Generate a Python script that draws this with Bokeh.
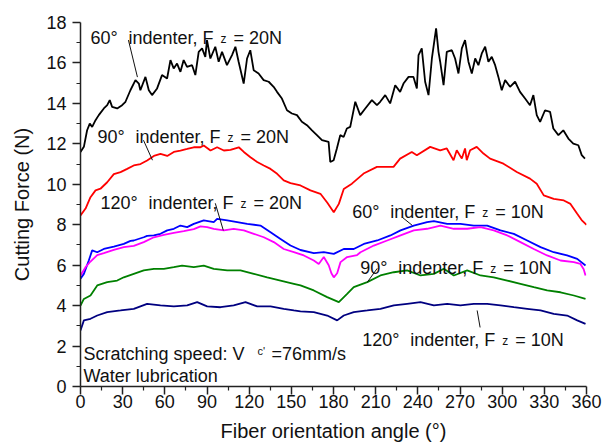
from bokeh.plotting import figure
from bokeh.models import Label, Range1d, FixedTicker
from bokeh.embed import file_html
from bokeh.resources import INLINE

FONT = "Liberation Sans"

# ---------------- data ----------------
ang_60_20 = [0, 2.4, 4.7, 6.6, 8.3, 10.7, 13.0, 16.6, 19, 20.8, 22.5, 26.1, 29.6, 32, 35.5, 39.1, 41.5,
             42.6, 46.2, 48.6, 50.9, 54.5, 58, 61.6, 64, 66.3, 68.7, 71.1, 73.4, 75.8, 79.4, 81.7, 84.1,
             86.5, 88.8, 90, 92.4, 95.9, 98.3, 100.7, 104.2, 107.8, 110.2, 112.5, 116.1, 118.5, 120.8,
             123.2, 126.7, 130.3, 133.9, 137.4, 139.8, 143.3, 146.9, 150.4, 154, 157.5, 161.1, 164.7,
             168.2, 171.8, 176.5, 177.7, 180.1, 182.4, 184.8, 187.2, 189.5, 191.9, 195.5, 199, 202.6,
             207.3, 210.9, 213.2, 216.8, 220.3, 223.9, 227.4, 229.8, 233.4, 236.9, 239.3, 240.5, 242.8,
             245.2, 247.6, 250, 253, 254.7, 255.9, 258.3, 260.6, 264.2, 266.5, 268.9, 271.3, 273.6, 276,
             278.4, 280.8, 283.1, 285.5, 287.9, 290.2, 292.6, 295, 297.3, 299.7, 302.1, 305.6, 309.2,
             312.7, 316.3, 319.8, 322.2, 324.6, 327, 330.5, 334.1, 336.4, 340, 343.5, 347.1, 350.6,
             354.2, 356.6, 358.9]
force_60_20 = [11.6, 11.85, 12.67, 13.0, 12.84, 13.17, 13.42, 13.75, 13.91, 14.16, 13.83, 13.75, 13.91,
               14.08, 14.65, 15.15, 14.98, 14.65, 15.31, 14.65, 14.41, 14.74, 15.4, 15.23, 16.14, 15.73,
               15.97, 15.56, 16.14, 15.81, 15.89, 15.4, 16.55, 16.72, 16.3, 17.13, 16.22, 16.8, 16.06,
               16.55, 15.89, 16.39, 16.8, 16.06, 14.98, 16.22, 16.63, 15.64, 15.48, 15.15, 15.07, 14.82,
               14.57, 14.24, 13.66, 13.5, 13.42, 13.09, 12.92, 12.67, 12.43, 12.18, 12.1, 11.1, 11.19,
               11.77, 12.43, 12.34, 12.76, 12.84, 14.08, 13.42, 13.75, 14.16, 13.91, 14.08, 14.41, 14.0,
               14.9, 14.57, 14.98, 15.31, 15.31, 14.74, 16.39, 16.72, 15.07, 14.41, 16.22, 17.71, 16.55,
               16.06, 14.9, 16.55, 16.63, 16.22, 15.48, 16.72, 17.13, 16.06, 15.48, 16.22, 15.89, 16.47,
               16.8, 16.06, 16.3, 15.89, 15.31, 14.65, 15.15, 14.82, 15.07, 14.57, 14.24, 13.91, 14.41,
               13.42, 13.09, 13.66, 13.58, 12.76, 12.43, 12.67, 12.26, 12.01, 11.93, 11.44, 11.27]

ang_90_20 = [0, 3.6, 7.1, 10.7, 14.2, 19, 23.7, 28.5, 33.2, 37.9, 42.7, 47.4, 52.2, 56.9, 61.7, 66.4, 71.1,
             75.9, 80.6, 85.4, 87.7, 92.5, 97.2, 102, 106.7, 112.6, 116.2, 120.9, 125.7, 130.4, 135.2,
             139.9, 144.6, 149.4, 156.5, 163.6, 170.7, 175.5, 180.2, 183.8, 187.3, 193.1, 201.4, 210.9,
             222.7, 227.4, 235.7, 239.3, 248.8, 255.9, 260.6, 265.4, 267.7, 271.3, 273.6, 274.8, 277.2,
             281.9, 286.7, 291.4, 300.9, 310.4, 319.8, 324.6, 329.6, 336.7, 343.9, 348.6, 353.4, 356.9, 360]
force_90_20 = [8.46, 8.8, 9.36, 9.7, 9.78, 10.1, 10.5, 10.6, 10.76, 10.93, 11.0, 11.18, 11.4, 11.5, 11.4,
               11.6, 11.67, 11.75, 11.83, 11.83, 11.92, 11.67, 11.83, 11.67, 11.7, 11.83, 11.6, 11.34, 11.1,
               10.93, 10.76, 10.52, 10.19, 10.06, 9.94, 9.7, 9.53, 9.1, 8.62, 9.03, 9.77, 10.03, 10.53,
               10.86, 10.86, 11.27, 11.6, 11.44, 11.85, 11.68, 11.77, 11.19, 11.68, 11.27, 11.77, 11.19,
               11.68, 11.85, 11.52, 11.27, 11.02, 10.61, 10.28, 10.03, 9.45, 9.28, 9.2, 9.03, 8.54, 8.2, 8.0]

ang_120_20 = [0, 2.4, 5.9, 8.3, 11.9, 16.6, 23.7, 30.8, 35.6, 37.9, 45, 47.4, 52.2, 56.9, 61.7, 66.4, 71.1,
              75.9, 80.6, 87.7, 94.8, 97.2, 104.4, 111.5, 118.6, 128, 135.2, 142.3, 149.4, 156.5, 166,
              173.1, 177, 180.2, 187.3, 194.4, 201.6, 211.1, 220.5, 227.7, 237.1, 246.6, 251.4, 260.9,
              270.3, 279.8, 289.3, 298.8, 308.3, 317.8, 327.3, 336.7, 346.2, 353.4, 359.3]
force_120_20 = [5.33, 5.57, 6.23, 6.73, 6.64, 6.8, 6.92, 7.05, 7.2, 7.22, 7.38, 7.45, 7.47, 7.55, 7.72, 7.8,
                7.96, 7.88, 8.04, 8.21, 8.13, 8.29, 8.21, 8.13, 8.04, 7.96, 7.63, 7.3, 6.97, 6.75, 6.6, 6.64,
                6.6, 6.56, 6.8, 6.8, 7.05, 7.22, 7.47, 7.72, 7.96, 8.13, 8.18, 8.04, 8.04, 7.96, 7.96, 7.72,
                7.55, 7.22, 6.89, 6.64, 6.48, 6.31, 5.98]

ang_60_10 = [0, 3.6, 7.1, 11.9, 16.6, 23.7, 30.8, 37.9, 45, 52.2, 59.3, 66.4, 73.5, 80.6, 85.4, 90.1, 94.8,
             102, 109, 116.2, 123.3, 130.4, 137.5, 144.6, 151.8, 158.9, 166, 169.5, 173.1, 176.6, 178.5,
             180.2, 182.6, 185, 189.7, 196.8, 199.2, 208.7, 218.2, 227.7, 237.1, 246.6, 256.1, 265.6,
             275.1, 284.6, 294, 303.6, 313, 322.5, 332, 341.5, 351, 355.7, 358, 359.3]
force_60_10 = [5.49, 5.9, 6.18, 6.5, 6.6, 6.76, 6.89, 6.95, 7.14, 7.38, 7.5, 7.6, 7.68, 7.78, 7.92, 7.88,
               7.8, 7.72, 7.8, 7.72, 7.55, 7.38, 7.14, 6.8, 6.64, 6.48, 6.23, 6.06, 6.4, 6.0, 5.6, 5.4, 5.6,
               6.15, 6.4, 6.5, 6.64, 6.97, 7.22, 7.47, 7.72, 7.8, 7.96, 7.8, 7.8, 7.88, 7.72, 7.47, 7.14,
               6.8, 6.48, 6.23, 6.15, 6.06, 5.8, 5.49]

ang_90_10 = [0, 2.4, 7.1, 11.9, 19, 26.1, 30.8, 37.9, 45, 52.2, 59.3, 66.4, 72.3, 80.6, 87.7, 94.8, 104.4,
             113.8, 123.3, 132.8, 142.3, 151.8, 156.5, 166, 175.5, 183.8, 189.7, 194.4, 204, 213.4, 222.9,
             232.4, 241.9, 251.4, 258.5, 265.6, 275.1, 284.6, 294, 303.6, 313, 322.5, 332, 341.5, 351, 359.3]
force_90_10 = [4.0, 4.33, 4.5, 5.0, 5.16, 5.24, 5.4, 5.57, 5.74, 5.82, 5.82, 5.9, 5.98, 5.9, 5.98, 5.82,
               5.74, 5.74, 5.57, 5.4, 5.24, 5.08, 5.0, 4.75, 4.42, 4.17, 4.58, 4.91, 5.16, 5.49, 5.65, 5.74,
               5.49, 5.57, 5.82, 5.49, 5.74, 5.49, 5.4, 5.24, 5.08, 4.91, 4.75, 4.66, 4.5, 4.33]

ang_120_10 = [0, 2.4, 7.1, 11.9, 19, 28.5, 37.9, 47.4, 56.9, 66.4, 75.9, 83, 90.1, 99.6, 109, 117.4, 125.7,
              135.2, 144.6, 151.8, 156.5, 166, 175.5, 182.6, 187.3, 194.4, 204, 213.4, 222.9, 232.4, 241.9,
              251.4, 260.9, 270.3, 279.8, 289.3, 298.8, 308.3, 317.8, 327.3, 336.7, 346.2, 353.4, 359.3]
force_120_10 = [2.77, 3.27, 3.35, 3.51, 3.68, 3.76, 3.84, 4.09, 4.01, 3.96, 4.01, 4.17, 3.96, 3.92, 4.01,
                4.17, 3.96, 3.96, 3.84, 3.76, 3.72, 3.68, 3.51, 3.27, 3.51, 3.68, 3.76, 3.84, 4.01, 4.09,
                4.17, 4.01, 4.09, 4.01, 4.09, 4.09, 4.01, 3.92, 3.84, 3.76, 3.59, 3.51, 3.27, 3.1]

x_ticks = [0, 30, 60, 90, 120, 150, 180, 210, 240, 270, 300, 330, 360]
x_minor = [15, 45, 75, 105, 135, 165, 195, 225, 255, 285, 315, 345]
y_ticks = [0, 2, 4, 6, 8, 10, 12, 14, 16, 18]
y_minor = [1, 3, 5, 7, 9, 11, 13, 15, 17]

# annotation texts: (angle label, load label, text x, text baseline y, leader start, leader end)
notes = [
    ("60°", "20N", 7.1, 17.23, (34.1, 17.13), (40.5, 15.3)),
    ("90°", "20N", 12.1, 12.33, (44.8, 12.18), (51.2, 11.19)),
    ("120°", "20N", 14.2, 9.06, (95.9, 9.06), (101.6, 7.72)),
    ("60°", "10N", 193.3, 8.61, (228.9, 8.37), (236.0, 7.97)),
    ("90°", "10N", 199.0, 5.84, (211.1, 5.84), (204.0, 5.15)),
    ("120°", "10N", 200.4, 2.28, (282.2, 3.76), (284.3, 2.92)),
]

series = [
    (ang_60_20, force_60_20, "#000000"),
    (ang_90_20, force_90_20, "#ff0000"),
    (ang_120_20, force_120_20, "#0000ff"),
    (ang_60_10, force_60_10, "#ff00ff"),
    (ang_90_10, force_90_10, "#008000"),
    (ang_120_10, force_120_10, "#000080"),
]

# ---------------- figure ----------------
p = figure(width=605, height=446, output_backend="svg", toolbar_location=None,
           x_range=Range1d(0, 360), y_range=Range1d(0, 18),
           min_border_left=80, min_border_right=19, min_border_top=22, min_border_bottom=60)
p.xgrid.visible = False
p.ygrid.visible = False
p.outline_line_color = None
p.background_fill_color = "white"
p.border_fill_color = "white"

for ax, ticks, minor in ((p.xaxis[0], x_ticks, x_minor), (p.yaxis[0], y_ticks, y_minor)):
    ax.ticker = FixedTicker(ticks=ticks, minor_ticks=minor)
    ax.axis_line_width = 1.5
    ax.axis_line_color = "#222222"
    ax.major_tick_line_width = 1.5
    ax.major_tick_line_color = "#222222"
    ax.minor_tick_line_width = 1.2
    ax.minor_tick_line_color = "#222222"
    ax.major_tick_in = 0
    ax.major_tick_out = 8
    ax.minor_tick_in = 0
    ax.minor_tick_out = 4
    ax.major_label_text_font = FONT
    ax.major_label_text_font_size = "18px"
    ax.major_label_text_color = "#111111"
    ax.axis_label_text_font = FONT
    ax.axis_label_text_font_size = "20px"
    ax.axis_label_text_font_style = "normal"
    ax.axis_label_text_color = "#111111"

p.xaxis.axis_label = "Fiber orientation angle (°)"
p.yaxis.axis_label = "Cutting Force (N)"
p.xaxis.major_label_standoff = 0
p.xaxis.axis_label_standoff = 9
p.yaxis.major_label_standoff = 6
p.yaxis.axis_label_standoff = 10

for xs, ys, col in series:
    p.line(xs, ys, line_color=col, line_width=1.8)


def add_text(x, y, text, size, dx=0, dy=0):
    p.add_layout(Label(x=x, y=y, x_offset=dx, y_offset=dy, text=text, text_font=FONT,
                       text_font_size=size, text_color="#111111", text_baseline="alphabetic",
                       text_align="left"))


for ang, load, tx, ty, l0, l1 in notes:
    d1 = 38 if len(ang) == 3 else 48
    add_text(tx, ty, ang, "18px")
    add_text(tx, ty, "indenter, F", "18px", dx=d1)
    add_text(tx, ty, "z", "12px", dx=d1 + 92, dy=-1)
    add_text(tx, ty, "= " + load, "18px", dx=d1 + 105)
    p.line([l0[0], l1[0]], [l0[1], l1[1]], line_color="#111111", line_width=1)

add_text(2.1, 1.63, "Scratching speed: V", "18px")
add_text(2.1, 1.63, "c'", "11px", dx=174, dy=3)
add_text(2.1, 1.63, "=76mm/s", "18px", dx=188)
add_text(2.1, 0.54, "Water lubrication", "18px")

open("out.html", "w").write(file_html(p, INLINE))
